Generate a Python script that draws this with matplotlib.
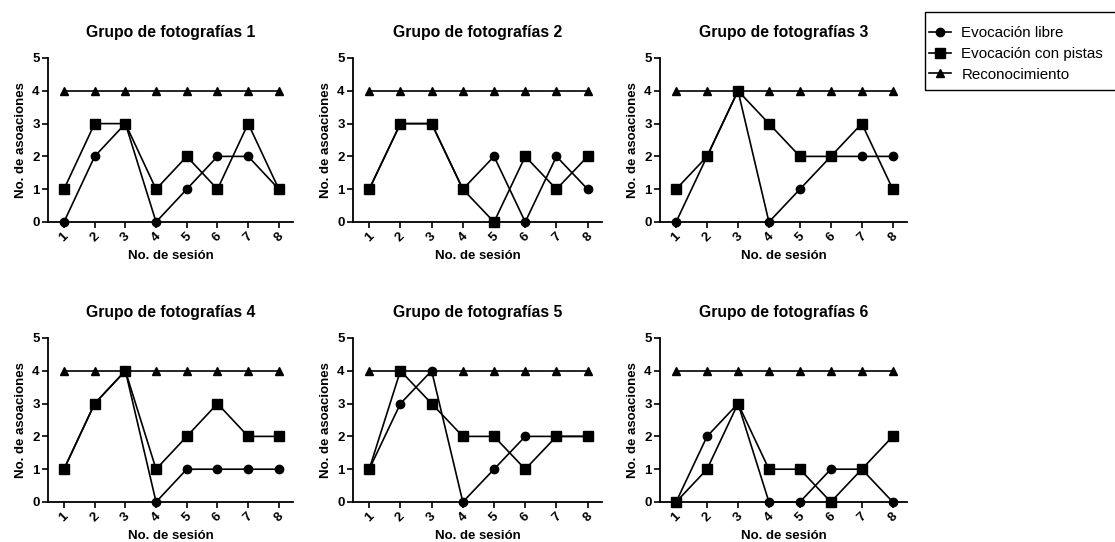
import matplotlib
matplotlib.use("Agg")
import matplotlib.pyplot as plt
from matplotlib.patches import Rectangle

plt.rcParams['font.family'] = ['Liberation Sans', 'DejaVu Sans']

sessions = [1, 2, 3, 4, 5, 6, 7, 8]
titles = ["Grupo de fotografías 1", "Grupo de fotografías 2", "Grupo de fotografías 3",
          "Grupo de fotografías 4", "Grupo de fotografías 5", "Grupo de fotografías 6"]
series_names = ["Evocación libre", "Evocación con pistas", "Reconocimiento"]

libre_1 = [0, 2, 3, 0, 1, 2, 2, 1]
pistas_1 = [1, 3, 3, 1, 2, 1, 3, 1]
recon_1 = [4, 4, 4, 4, 4, 4, 4, 4]

libre_2 = [1, 3, 3, 1, 2, 0, 2, 1]
pistas_2 = [1, 3, 3, 1, 0, 2, 1, 2]
recon_2 = [4, 4, 4, 4, 4, 4, 4, 4]

libre_3 = [0, 2, 4, 0, 1, 2, 2, 2]
pistas_3 = [1, 2, 4, 3, 2, 2, 3, 1]
recon_3 = [4, 4, 4, 4, 4, 4, 4, 4]

libre_4 = [1, 3, 4, 0, 1, 1, 1, 1]
pistas_4 = [1, 3, 4, 1, 2, 3, 2, 2]
recon_4 = [4, 4, 4, 4, 4, 4, 4, 4]

libre_5 = [1, 3, 4, 0, 1, 2, 2, 2]
pistas_5 = [1, 4, 3, 2, 2, 1, 2, 2]
recon_5 = [4, 4, 4, 4, 4, 4, 4, 4]

libre_6 = [0, 2, 3, 0, 0, 1, 1, 0]
pistas_6 = [0, 1, 3, 1, 1, 0, 1, 2]
recon_6 = [4, 4, 4, 4, 4, 4, 4, 4]

panels = [(libre_1, pistas_1, recon_1), (libre_2, pistas_2, recon_2), (libre_3, pistas_3, recon_3),
          (libre_4, pistas_4, recon_4), (libre_5, pistas_5, recon_5), (libre_6, pistas_6, recon_6)]

W, H = 1115, 542
fig = plt.figure(figsize=(W / 100, H / 100), dpi=100)

lefts = [48, 353, 660]
widths = [245, 249, 247]
rows_bottom_px = [222, 502]
height_px = 164

markers = ['o', 's', '^']
msizes = [6, 6.5, 5.5]
handles = None
for i, (title, data) in enumerate(zip(titles, panels)):
    r, c = divmod(i, 3)
    ax = fig.add_axes([lefts[c] / W, 1 - rows_bottom_px[r] / H, widths[c] / W, height_px / H])
    hs = []
    for vals, m, ms, name in zip(data, markers, msizes, series_names):
        h, = ax.plot(sessions, vals, color='black', lw=1.2, marker=m, markersize=ms,
                     label=name, clip_on=False, zorder=3)
        hs.append(h)
    handles = hs
    ax.set_xlim(0.48, 8.46)
    ax.set_ylim(0, 5)
    ax.set_yticks([0, 1, 2, 3, 4, 5])
    ax.set_xticks(sessions)
    ax.set_xticklabels([str(s) for s in sessions], rotation=45, ha='center', va='top')
    for s in ['top', 'right']:
        ax.spines[s].set_visible(False)
    for s in ['left', 'bottom']:
        ax.spines[s].set_linewidth(1.3)
    ax.tick_params(direction='out', width=1.2, length=4, labelsize=9.5, pad=2)
    for lab in ax.get_xticklabels() + ax.get_yticklabels():
        lab.set_fontweight('bold')
    ax.set_title(title, fontsize=11.3, fontweight='bold', pad=15)
    ax.set_xlabel("No. de sesión", fontsize=9.5, fontweight='bold', labelpad=4)
    ax.set_ylabel("No. de asoaciones", fontsize=9.5, fontweight='bold', labelpad=4)

# legend frame (drawn separately to match the reference padding)
fig.patches.append(Rectangle((925 / W, 1 - 90 / H), 200 / W, 78 / H,
                             transform=fig.transFigure, fill=False,
                             edgecolor='black', lw=1.0, clip_on=False))
fig.legend(handles=handles, labels=series_names, loc='upper left',
           bbox_to_anchor=(929 / W, 1 - 26 / H), frameon=False,
           fontsize=10.9, handlelength=1.47, handletextpad=0.67,
           borderpad=0, labelspacing=0.45, borderaxespad=0)

fig.savefig("out.png", dpi=100)
